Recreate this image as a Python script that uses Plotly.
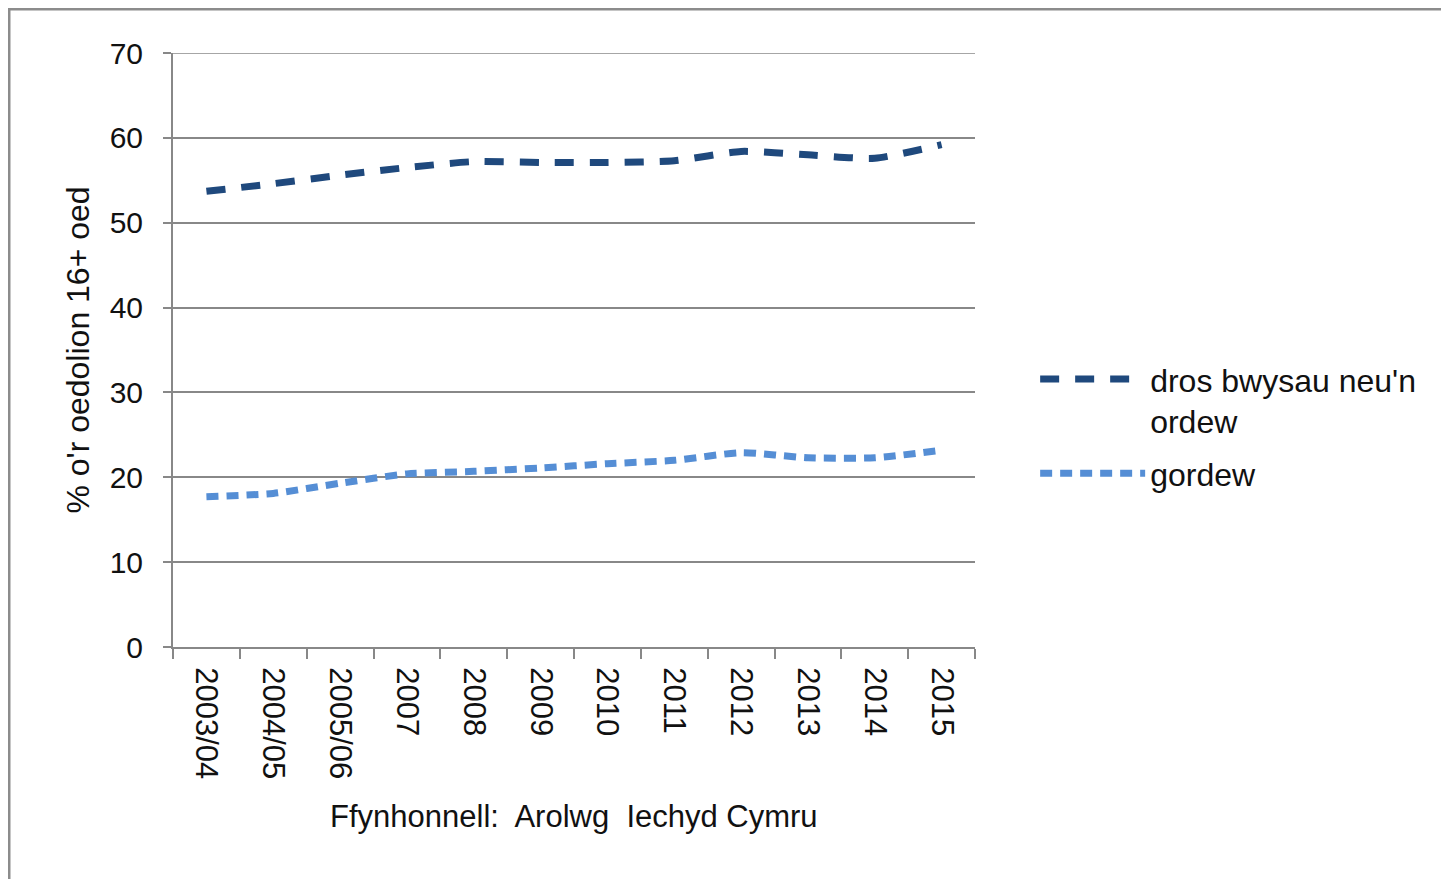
import plotly.graph_objects as go

years = ["2003/04", "2004/05", "2005/06", "2007", "2008", "2009",
         "2010", "2011", "2012", "2013", "2014", "2015"]
overweight = [53.7, 54.6, 55.6, 56.5, 57.2, 57.1, 57.1, 57.3, 58.4, 58.0, 57.6, 59.2]
obese = [17.7, 18.1, 19.3, 20.4, 20.7, 21.1, 21.6, 22.0, 22.9, 22.3, 22.3, 23.2]

names = ["dros bwysau neu'n<br>ordew", "gordew"]
y_ticks = [0, 10, 20, 30, 40, 50, 60, 70]

font = "Liberation Sans, Arial, sans-serif"
grey = "#888888"

fig = go.Figure()
fig.add_trace(go.Scatter(
    x=years, y=overweight, name=names[0], mode="lines", legendgroup="a",
    line=dict(color="#1F497D", width=7, dash="19px,16px", shape="spline", smoothing=0.6),
))
fig.add_trace(go.Scatter(
    x=years, y=obese, name=names[1], mode="lines", legendgroup="b",
    line=dict(color="#558ED5", width=7, dash="12px,8px", shape="spline", smoothing=0.6),
))

# page body adds an 8px offset, margins are set against that
fig.update_layout(
    width=1449, height=879,
    paper_bgcolor="white", plot_bgcolor="white",
    margin=dict(l=165, r=482, t=45, b=240),
    font=dict(family=font, size=32, color="#111111"),
    showlegend=True,
    legend=dict(x=1.075, y=0.497, xanchor="left", yanchor="top", valign="top",
                font=dict(size=32), itemwidth=105, traceorder="grouped",
                tracegroupgap=8, bgcolor="rgba(0,0,0,0)"),
    xaxis=dict(
        type="category", tickangle=90, tickson="boundaries",
        ticks="outside", ticklen=10, tickcolor=grey, tickwidth=2,
        showline=True, linecolor=grey, linewidth=2,
        showgrid=False, range=[-0.5, 11.5],
        tickfont=dict(size=31), ticklabelstandoff=12,
    ),
    yaxis=dict(
        range=[0, 70], tickvals=y_ticks, ticks="outside", ticklen=8,
        tickcolor=grey, tickwidth=2, showline=True, linecolor=grey, linewidth=2,
        showgrid=True, gridcolor=grey, gridwidth=1.5, zeroline=False,
        title=dict(text="% o'r oedolion 16+ oed", standoff=10, font=dict(size=32)),
        tickfont=dict(size=30), ticklabelstandoff=14,
    ),
    annotations=[dict(
        text="Ffynhonnell:  Arolwg  Iechyd Cymru", xref="paper", yref="paper",
        x=0.5, y=-0.286, xanchor="center", yanchor="middle", showarrow=False,
        font=dict(size=31),
    )],
    shapes=[
        dict(type="rect", xref="paper", yref="paper",
             x0=-0.2045, y0=-0.6, x1=1.7, y1=1.074,
             line=dict(color="#8c8c8c", width=3), layer="below"),
        # top gridline at 70 (plotly drops the one on the range edge)
        dict(type="line", xref="paper", yref="y", x0=0, x1=1,
             y0=y_ticks[-1], y1=y_ticks[-1], line=dict(color=grey, width=1.5)),
    ],
)

fig.write_html("out.html")
